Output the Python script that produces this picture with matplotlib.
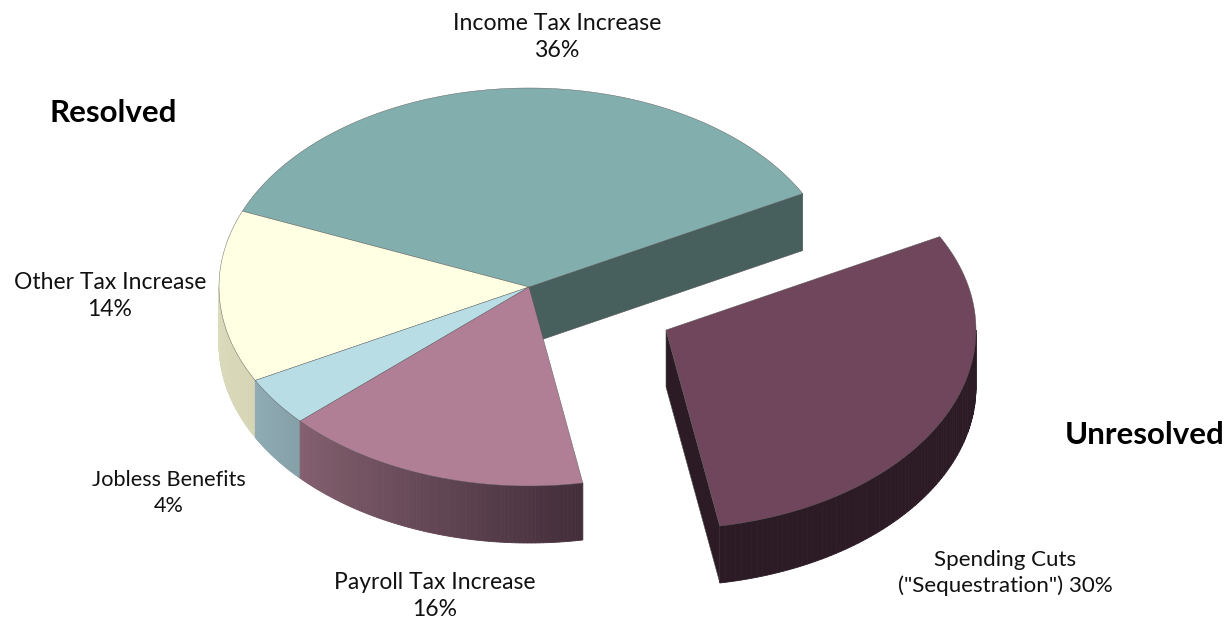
import numpy as np
import matplotlib
matplotlib.use("Agg")
import matplotlib.pyplot as plt
from matplotlib.colors import to_rgb

# budget shares, counter-clockwise from the right edge of the income slice
categories = ["Income Tax Increase", "Other Tax Increase", "Jobless Benefits",
              "Payroll Tax Increase", "Spending Cuts"]
shares = [36, 14, 4, 16, 30]
top_colors = ["#82afad", "#ffffe3", "#b8dde5", "#b07f96", "#6f465b"]
side_colors = [("#475f5d", "#475f5d"), ("#dcdcbe", "#d6d5b6"), ("#8facb5", "#86a0a8"),
               ("#84606f", "#432e3a"), ("#2c1b25", "#2c1b25")]
wall_colors = ["#475f5d", None, None, None, "#2c1b25"]

CX, CY = 529, 287
RX, RY = 310, 199
DEPTH = 57
START = 28
EXPLODE = (137, 43)
OUTLINE = "#555555"

plt.rcParams["font.family"] = ["Lato", "DejaVu Sans"]
fig = plt.figure(figsize=(12.26, 6.2), dpi=100)
ax = fig.add_axes([0, 0, 1, 1])
ax.set_xlim(0, 1226)
ax.set_ylim(620, 0)
ax.axis("off")


def rim(t, cx, cy, drop=0):
    a = np.radians(t)
    return cx + RX * np.cos(a), cy - RY * np.sin(a) + drop


def draw_wall(t, cx, cy, color):
    x, y = rim(t, cx, cy)
    ax.fill([cx, x, x, cx], [cy, y, y + DEPTH, cy + DEPTH], color=color,
            ec=OUTLINE, lw=0.4, zorder=1)


def draw_side(t0, t1, cx, cy, colors):
    # outer skin, built from narrow strips so the shading can vary along x
    t0, t1 = max(t0, 180), min(t1, 360)
    if t1 <= t0:
        return
    c0, c1 = np.array(to_rgb(colors[0])), np.array(to_rgb(colors[1]))
    edges = np.linspace(t0, t1, 80)
    for i in range(len(edges) - 1):
        tt = np.linspace(edges[i], edges[i + 1], 3)
        x, y = rim(tt, cx, cy)
        f = i / (len(edges) - 2)
        col = c0 + (c1 - c0) * f
        ax.fill(np.r_[x, x[::-1]], np.r_[y, y[::-1] + DEPTH], color=col,
                lw=0.6, ec=col, zorder=2)


def draw_top(t0, t1, cx, cy, color):
    x, y = rim(np.linspace(t0, t1, 200), cx, cy)
    ax.fill(np.r_[cx, x], np.r_[cy, y], fc=color, ec=OUTLINE, lw=0.3, zorder=3)


angles = START + np.r_[0, np.cumsum(shares)] * 3.6
for i in range(len(shares)):
    t0, t1 = angles[i], angles[i + 1]
    cx, cy = CX, CY
    if i == len(shares) - 1:
        cx += EXPLODE[0]
        cy += EXPLODE[1]
    if wall_colors[i]:
        draw_wall(t0, cx, cy, wall_colors[i])
    draw_side(t0, t1, cx, cy, side_colors[i])
    draw_top(t0, t1, cx, cy, top_colors[i])

txt = dict(ha="center", va="center", color="#111111", linespacing=1.37, zorder=5)
ax.text(557, 37, f"{categories[0]}\n{shares[0]}%", fontsize=16.7, **txt)
ax.text(110, 296, f"{categories[1]}\n{shares[1]}%", fontsize=16.5, **txt)
ax.text(169, 493, f"{categories[2]}\n{shares[2]}%", fontsize=15.6, **txt)
ax.text(435, 596, f"{categories[3]}\n{shares[3]}%", fontsize=16.5, **txt)
ax.text(1005, 573, f"{categories[4]}\n(\"Sequestration\") {shares[4]}%", fontsize=16.1, **txt)

head = dict(ha="center", va="center", fontsize=22.5, fontweight="bold", color="black", zorder=5)
ax.text(113, 113, "Resolved", **head)
ax.text(1145, 435, "Unresolved", **head)

fig.savefig("out.png", dpi=100)
